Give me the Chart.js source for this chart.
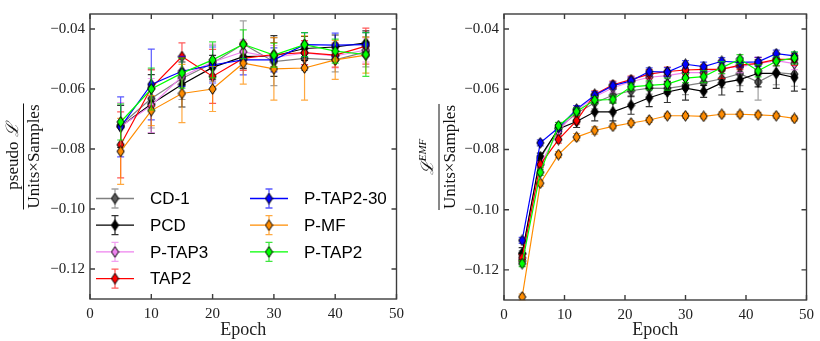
<!DOCTYPE html>
<html>
<head>
<meta charset="utf-8">
<script src="https://cdn.jsdelivr.net/npm/chart.js@4.4.0/dist/chart.umd.min.js"></script>
<style>
  body { margin: 0; background: #fff; }
  #wrap { position: relative; width: 820px; height: 341px; }
  .pane { position: absolute; top: 0; width: 410px; height: 341px; }
</style>
</head>
<body>
<div id="wrap">
  <div class="pane" style="left:0"><canvas id="leftChart" width="410" height="341"></canvas></div>
  <div class="pane" style="left:410px"><canvas id="rightChart" width="410" height="341"></canvas></div>
</div>
<script>
// ---- data ----
var seriesNames = ['CD-1', 'PCD', 'P-TAP3', 'TAP2', 'P-TAP2-30', 'P-MF', 'P-TAP2'];
var xTicks = [0, 10, 20, 30, 40, 50];
var yTicks = [-0.12, -0.10, -0.08, -0.06, -0.04];

// left panel: pseudo likelihood
var leftEpochs = [5, 10, 15, 20, 25, 30, 35, 40, 45];
var leftCD1     = [-0.0720, -0.0632, -0.0565, -0.0514, -0.0450, -0.0509, -0.0498, -0.0503, -0.0476];
var leftPCD     = [-0.0725, -0.0650, -0.0585, -0.0528, -0.0492, -0.0490, -0.0465, -0.0460, -0.0446];
var leftPTAP3   = [-0.0725, -0.0655, -0.0558, -0.0510, -0.0476, -0.0495, -0.0480, -0.0490, -0.0470];
var leftTAP2    = [-0.0786, -0.0596, -0.0492, -0.0558, -0.0498, -0.0485, -0.0479, -0.0487, -0.0457];
var leftPTAP230 = [-0.0726, -0.0585, -0.0541, -0.0520, -0.0503, -0.0503, -0.0452, -0.0454, -0.0452];
var leftPMF     = [-0.0808, -0.0672, -0.0615, -0.0600, -0.0514, -0.0533, -0.0530, -0.0503, -0.0487];
var leftPTAP2   = [-0.0710, -0.0600, -0.0547, -0.0503, -0.0451, -0.0487, -0.0452, -0.0474, -0.0485];

var leftCD1Err     = [0.0070, 0.0098, 0.0070, 0.0060, 0.0077, 0.0080, 0.0040, 0.0040, 0.0050];
var leftPCDErr     = [0.0070, 0.0098, 0.0075, 0.0040, 0.0040, 0.0068, 0.0040, 0.0040, 0.0040];
var leftPTAP3Err   = [0.0080, 0.0090, 0.0060, 0.0060, 0.0040, 0.0040, 0.0040, 0.0040, 0.0040];
var leftTAP2Err    = [0.0110, 0.0060, 0.0046, 0.0090, 0.0040, 0.0040, 0.0040, 0.0040, 0.0060];
var leftPTAP230Err = [0.0100, 0.0118, 0.0050, 0.0060, 0.0050, 0.0040, 0.0040, 0.0040, 0.0040];
var leftPMFErr     = [0.0110, 0.0050, 0.0097, 0.0075, 0.0070, 0.0104, 0.0107, 0.0065, 0.0060];
var leftPTAP2Err   = [0.0060, 0.0070, 0.0050, 0.0060, 0.0048, 0.0040, 0.0040, 0.0040, 0.0073];

// right panel: EMF likelihood
var rightEpochs = [3, 6, 9, 12, 15, 18, 21, 24, 27, 30, 33, 36, 39, 42, 45, 48];
var rightCD1     = [-0.1146, -0.0830, -0.0730, -0.0680, -0.0645, -0.0620, -0.0605, -0.0596, -0.0597, -0.0588, -0.0578, -0.0565, -0.0548, -0.0576, -0.0545, -0.0550];
var rightPCD     = [-0.1146, -0.0824, -0.0732, -0.0707, -0.0675, -0.0675, -0.0653, -0.0628, -0.0609, -0.0596, -0.0607, -0.0579, -0.0568, -0.0547, -0.0547, -0.0561];
var rightPTAP3   = [-0.1170, -0.0850, -0.0740, -0.0670, -0.0625, -0.0595, -0.0575, -0.0560, -0.0555, -0.0545, -0.0545, -0.0530, -0.0525, -0.0515, -0.0505, -0.0515];
var rightTAP2    = [-0.1160, -0.0850, -0.0767, -0.0704, -0.0617, -0.0585, -0.0568, -0.0550, -0.0541, -0.0536, -0.0534, -0.0534, -0.0520, -0.0514, -0.0501, -0.0501];
var rightPTAP230 = [-0.1102, -0.0778, -0.0728, -0.0666, -0.0620, -0.0588, -0.0572, -0.0541, -0.0543, -0.0517, -0.0525, -0.0507, -0.0511, -0.0509, -0.0482, -0.0489];
var rightPMF     = [-0.1290, -0.0912, -0.0817, -0.0759, -0.0737, -0.0723, -0.0712, -0.0702, -0.0688, -0.0688, -0.0690, -0.0683, -0.0683, -0.0685, -0.0688, -0.0697];
var rightPTAP2   = [-0.1179, -0.0876, -0.0721, -0.0674, -0.0636, -0.0634, -0.0592, -0.0587, -0.0583, -0.0563, -0.0558, -0.0528, -0.0500, -0.0539, -0.0507, -0.0496];

var rightCD1Err     = [0.0010, 0.0010, 0.0020, 0.0020, 0.0020, 0.0020, 0.0020, 0.0020, 0.0020, 0.0030, 0.0030, 0.0030, 0.0040, 0.0060, 0.0040, 0.0040];
var rightPCDErr     = [0.0020, 0.0012, 0.0015, 0.0020, 0.0030, 0.0030, 0.0030, 0.0030, 0.0035, 0.0040, 0.0020, 0.0040, 0.0040, 0.0045, 0.0050, 0.0045];
var rightPTAP3Err   = [0.0010, 0.0010, 0.0015, 0.0015, 0.0015, 0.0015, 0.0015, 0.0015, 0.0015, 0.0015, 0.0015, 0.0020, 0.0020, 0.0020, 0.0020, 0.0020];
var rightTAP2Err    = [0.0010, 0.0010, 0.0012, 0.0012, 0.0012, 0.0012, 0.0012, 0.0015, 0.0015, 0.0015, 0.0015, 0.0030, 0.0015, 0.0020, 0.0020, 0.0020];
var rightPTAP230Err = [0.0010, 0.0010, 0.0010, 0.0012, 0.0012, 0.0012, 0.0012, 0.0012, 0.0015, 0.0012, 0.0015, 0.0012, 0.0015, 0.0015, 0.0012, 0.0012];
var rightPMFErr     = [0.0010, 0.0010, 0.0010, 0.0012, 0.0012, 0.0008, 0.0008, 0.0008, 0.0008, 0.0008, 0.0008, 0.0008, 0.0008, 0.0008, 0.0008, 0.0008];
var rightPTAP2Err   = [0.0010, 0.0010, 0.0010, 0.0012, 0.0012, 0.0012, 0.0012, 0.0015, 0.0020, 0.0015, 0.0020, 0.0020, 0.0015, 0.0020, 0.0015, 0.0020];

// ---- styles ----
var lineColors   = ['#808080', '#000000', '#ee82ee', '#ff0000', '#0000ff', '#ff8c00', '#00ff00'];
var markerFills  = ['#5a5a5a', '#000000', '#ee82ee', '#ff0000', '#0000ff', '#ff8c00', '#00ff00'];
var errColors    = ['rgba(128,128,128,0.75)', 'rgba(0,0,0,0.8)', 'rgba(238,130,238,0.75)', 'rgba(255,0,0,0.65)',
                    'rgba(0,0,255,0.65)', 'rgba(255,140,0,0.75)', 'rgba(0,220,0,0.75)'];
var serif = "'Liberation Serif', 'DejaVu Serif', serif";

function diamond(fill) {
  var c = document.createElement('canvas');
  c.width = 9; c.height = 12;
  var g = c.getContext('2d');
  g.beginPath();
  g.moveTo(4.5, 0.7); g.lineTo(8.1, 6); g.lineTo(4.5, 11.3); g.lineTo(0.9, 6); g.closePath();
  g.fillStyle = fill; g.fill();
  g.lineWidth = 1; g.strokeStyle = '#000'; g.stroke();
  return c;
}
var markers = markerFills.map(diamond);

function fmt(v) {
  return (v < 0 ? '\u2212' : '') + Math.abs(v).toFixed(2);
}

// error bars, drawn under each dataset's own line
var errorBars = {
  id: 'errorBars',
  beforeDatasetDraw: function(chart, args) {
    var ds = chart.data.datasets[args.index];
    if (!ds.errors) return;
    var ctx = chart.ctx, y = chart.scales.y;
    ctx.save();
    ctx.strokeStyle = ds.errColor;
    ctx.lineWidth = 1.2;
    args.meta.data.forEach(function(pt, i) {
      var v = ds.data[i].y, e = ds.errors[i];
      var top = y.getPixelForValue(v + e), bot = y.getPixelForValue(v - e);
      ctx.beginPath();
      ctx.moveTo(pt.x, top); ctx.lineTo(pt.x, bot);
      ctx.moveTo(pt.x - 3.5, top); ctx.lineTo(pt.x + 3.5, top);
      ctx.moveTo(pt.x - 3.5, bot); ctx.lineTo(pt.x + 3.5, bot);
      ctx.stroke();
    });
    ctx.restore();
  }
};

// box round the plot with inward ticks on all sides, and the fraction y title
var frame = {
  id: 'frame',
  afterDraw: function(chart) {
    var ctx = chart.ctx, a = chart.chartArea, xs = chart.scales.x, ys = chart.scales.y;
    ctx.save();
    ctx.strokeStyle = '#3c3c3c';
    ctx.lineWidth = 1.4;
    ctx.strokeRect(a.left, a.top, a.right - a.left, a.bottom - a.top);
    ctx.beginPath();
    xTicks.forEach(function(t) {
      var px = xs.getPixelForValue(t);
      ctx.moveTo(px, a.bottom); ctx.lineTo(px, a.bottom - 5);
      ctx.moveTo(px, a.top); ctx.lineTo(px, a.top + 5);
    });
    yTicks.forEach(function(t) {
      var py = ys.getPixelForValue(t);
      ctx.moveTo(a.left, py); ctx.lineTo(a.left + 5, py);
      ctx.moveTo(a.right, py); ctx.lineTo(a.right - 5, py);
    });
    ctx.stroke();

    // y title as a fraction, rotated
    var f = chart.options.plugins.frame;
    var cy = (a.top + a.bottom) / 2;
    ctx.translate(f.barX, cy);
    ctx.rotate(-Math.PI / 2);
    ctx.fillStyle = '#111';
    ctx.font = '17px ' + serif;
    var den = 'Units\u00d7Samples';
    var dw = ctx.measureText(den).width;
    ctx.textBaseline = 'top';
    ctx.textAlign = 'center';
    ctx.fillText(den, 0, 3);
    ctx.beginPath();
    ctx.lineWidth = 1;
    ctx.strokeStyle = '#111';
    ctx.moveTo(-dw / 2 - 1, 0); ctx.lineTo(dw / 2 + 1, 0);
    ctx.stroke();
    // numerator
    ctx.textAlign = 'left';
    ctx.textBaseline = 'alphabetic';
    ctx.font = '17px ' + serif;
    var w1 = ctx.measureText(f.numText).width;
    ctx.font = 'italic 17px ' + serif;
    var w2 = ctx.measureText('\u2112').width;
    ctx.font = 'italic 11px ' + serif;
    var w3 = f.sup ? ctx.measureText(f.sup).width : 0;
    var x0 = -(w1 + w2 + w3) / 2, base = -6;
    ctx.font = '17px ' + serif;
    ctx.fillText(f.numText, x0, base);
    ctx.font = 'italic 17px ' + serif;
    ctx.fillText('\u2112', x0 + w1, base);
    if (f.sup) {
      ctx.font = 'italic 11px ' + serif;
      ctx.fillText(f.sup, x0 + w1 + w2, base - 7);
    }
    ctx.restore();
  }
};

// legend inside the left plot, two columns
var legendBox = {
  id: 'legendBox',
  afterDatasetsDraw: function(chart) {
    if (!chart.options.plugins.legendBox.show) return;
    var ctx = chart.ctx, a = chart.chartArea;
    ctx.save();
    seriesNames.forEach(function(name, i) {
      var col = i < 4 ? 0 : 1, row = i < 4 ? i : i - 4;
      var x = a.left + 6 + col * 154, y = a.top + 184.5 + row * 26.7;
      ctx.strokeStyle = lineColors[i];
      ctx.lineWidth = 1.3;
      ctx.beginPath(); ctx.moveTo(x, y); ctx.lineTo(x + 38, y); ctx.stroke();
      var cx = x + 19;
      ctx.strokeStyle = errColors[i];
      ctx.beginPath();
      ctx.moveTo(cx, y - 9.5); ctx.lineTo(cx, y + 9.5);
      ctx.moveTo(cx - 3.5, y - 9.5); ctx.lineTo(cx + 3.5, y - 9.5);
      ctx.moveTo(cx - 3.5, y + 9.5); ctx.lineTo(cx + 3.5, y + 9.5);
      ctx.stroke();
      ctx.drawImage(markers[i], cx - 4.5, y - 6);
      ctx.fillStyle = '#000';
      ctx.font = "17px 'Liberation Sans', Arial, sans-serif";
      ctx.textBaseline = 'middle';
      ctx.fillText(name, x + 54, y + 1);
    });
    ctx.restore();
  }
};

function makeDatasets(epochs, values, errors) {
  return values.map(function(vals, i) {
    return {
      label: seriesNames[i],
      data: epochs.map(function(e, k) { return { x: e, y: vals[k] }; }),
      errors: errors[i],
      errColor: errColors[i],
      borderColor: lineColors[i],
      backgroundColor: markerFills[i],
      borderWidth: 1.2,
      pointStyle: markers[i],
      pointRadius: 5,
      tension: 0,
      order: values.length - i
    };
  });
}

function makeChart(id, epochs, values, errors, opt) {
  return new Chart(document.getElementById(id).getContext('2d'), {
    type: 'line',
    data: { datasets: makeDatasets(epochs, values, errors) },
    plugins: [errorBars, frame, legendBox],
    options: {
      responsive: false,
      animation: false,
      devicePixelRatio: 1,
      layout: { padding: { left: 0, right: opt.padRight, top: 8, bottom: 0 } },
      plugins: {
        legend: { display: false },
        tooltip: { enabled: false },
        frame: { barX: opt.barX, numText: opt.numText, sup: opt.sup },
        legendBox: { show: opt.legend }
      },
      scales: {
        x: {
          type: 'linear', min: 0, max: 50,
          afterBuildTicks: function(s) { s.ticks = xTicks.map(function(v) { return { value: v }; }); },
          afterFit: function(s) { s.height = opt.xHeight; },
          grid: { display: false, drawTicks: false },
          border: { display: false },
          ticks: { padding: 6, color: '#222', font: { family: serif, size: 15 }, maxRotation: 0 },
          title: { display: true, text: 'Epoch', color: '#222', padding: { top: 0, bottom: 0 }, font: { family: serif, size: 18 } }
        },
        y: {
          type: 'linear', min: -0.13, max: -0.035,
          afterBuildTicks: function(s) { s.ticks = yTicks.map(function(v) { return { value: v }; }); },
          afterFit: function(s) { s.width = opt.yWidth; },
          grid: { display: false, drawTicks: false },
          border: { display: false },
          ticks: { padding: 5, color: '#222', font: { family: serif, size: 15 }, callback: fmt }
        }
      }
    }
  });
}

makeChart('leftChart', leftEpochs,
  [leftCD1, leftPCD, leftPTAP3, leftTAP2, leftPTAP230, leftPMF, leftPTAP2],
  [leftCD1Err, leftPCDErr, leftPTAP3Err, leftTAP2Err, leftPTAP230Err, leftPMFErr, leftPTAP2Err],
  { padRight: 10, yWidth: 90, xHeight: 42, barX: 23.5, numText: 'pseudo ', sup: '', legend: true });

makeChart('rightChart', rightEpochs,
  [rightCD1, rightPCD, rightPTAP3, rightTAP2, rightPTAP230, rightPMF, rightPTAP2],
  [rightCD1Err, rightPCDErr, rightPTAP3Err, rightTAP2Err, rightPTAP230Err, rightPMFErr, rightPTAP2Err],
  { padRight: 7, yWidth: 94, xHeight: 41, barX: 29, numText: '', sup: 'EMF', legend: false });
</script>
</body>
</html>
